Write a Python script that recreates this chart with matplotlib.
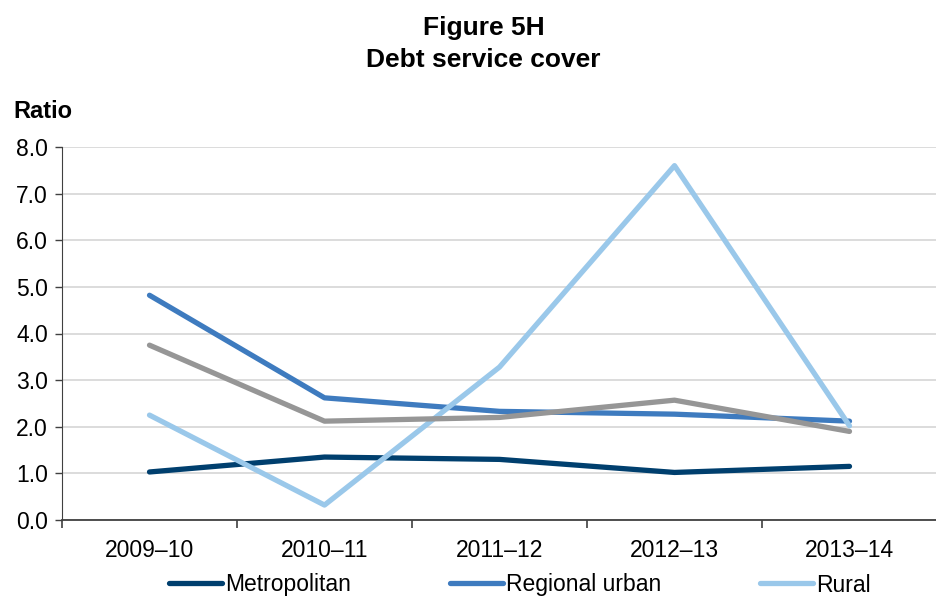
import matplotlib
matplotlib.use("Agg")
import matplotlib.pyplot as plt
import numpy as np

plt.rcParams["font.family"] = ["Liberation Sans", "DejaVu Sans"]

# data
years = ["2009–10", "2010–11", "2011–12", "2012–13", "2013–14"]
metropolitan = [1.03, 1.35, 1.30, 1.02, 1.15]
regional_urban = [4.82, 2.62, 2.33, 2.27, 2.12]
rural = [2.25, 0.32, 3.28, 7.60, 2.02]
interface = [3.75, 2.12, 2.20, 2.57, 1.90]  # grey line, not in legend

NAVY = "#003F6E"
MID_BLUE = "#3E7BBF"
LIGHT_BLUE = "#9AC8EA"
GREY = "#969696"
GRID = "#D9D9D9"

W, H = 937, 599
fig = plt.figure(figsize=(W / 100, H / 100), dpi=100)
ax = fig.add_axes([62 / W, (H - 520) / H, (W - 62) / W, (520 - 147) / H])

x = np.arange(len(years))
lw = 3.8
ax.plot(x, metropolitan, color=NAVY, lw=lw, solid_capstyle="round", label="Metropolitan", zorder=3)
ax.plot(x, regional_urban, color=MID_BLUE, lw=lw, solid_capstyle="round", label="Regional urban", zorder=3)
ax.plot(x, rural, color=LIGHT_BLUE, lw=lw, solid_capstyle="round", label="Rural", zorder=3)
ax.plot(x, interface, color=GREY, lw=lw, solid_capstyle="round", zorder=3)

FS = 16.5
ax.set_xlim(-0.5, len(years) - 0.5)
ax.set_ylim(0, 8)
ax.set_yticks(np.arange(0, 8.01, 1.0))
ax.set_yticklabels([f"{v:.1f}" for v in np.arange(0, 8.01, 1.0)], fontsize=FS)
ax.grid(axis="y", color=GRID, linewidth=1.3, zorder=0)
ax.set_axisbelow(True)

# category labels centred, tick marks between categories
ax.set_xticks(np.arange(-0.5, len(years), 1.0))
ax.set_xticklabels([])
ax.set_xticks(x, minor=True)
ax.set_xticklabels(years, minor=True, fontsize=FS)
ax.tick_params(axis="x", which="minor", length=0, pad=14)
ax.tick_params(axis="x", which="major", length=6, width=1.2, color="#404040", direction="out")
ax.tick_params(axis="y", length=5, width=1, color="#404040", pad=5)

for s in ["top", "right"]:
    ax.spines[s].set_visible(False)
ax.spines["left"].set_color("#404040")
ax.spines["bottom"].set_color("#404040")
ax.spines["bottom"].set_linewidth(1.3)

fig.text(0.516, (H - 28) / H, "Figure 5H", ha="center", va="center", fontsize=19, fontweight="bold")
fig.text(0.516, (H - 60) / H, "Debt service cover", ha="center", va="center", fontsize=19, fontweight="bold")
fig.text(13 / W, (H - 111) / H, "Ratio", ha="left", va="center", fontsize=17, fontweight="bold")

fig.legend(loc="center", bbox_to_anchor=(520 / W, (H - 585) / H), ncol=3, frameon=False,
           fontsize=FS, handlelength=2.3, handletextpad=0.15, columnspacing=4.3,
           borderpad=0, borderaxespad=0)

fig.savefig("out.png", dpi=100, facecolor="white")
